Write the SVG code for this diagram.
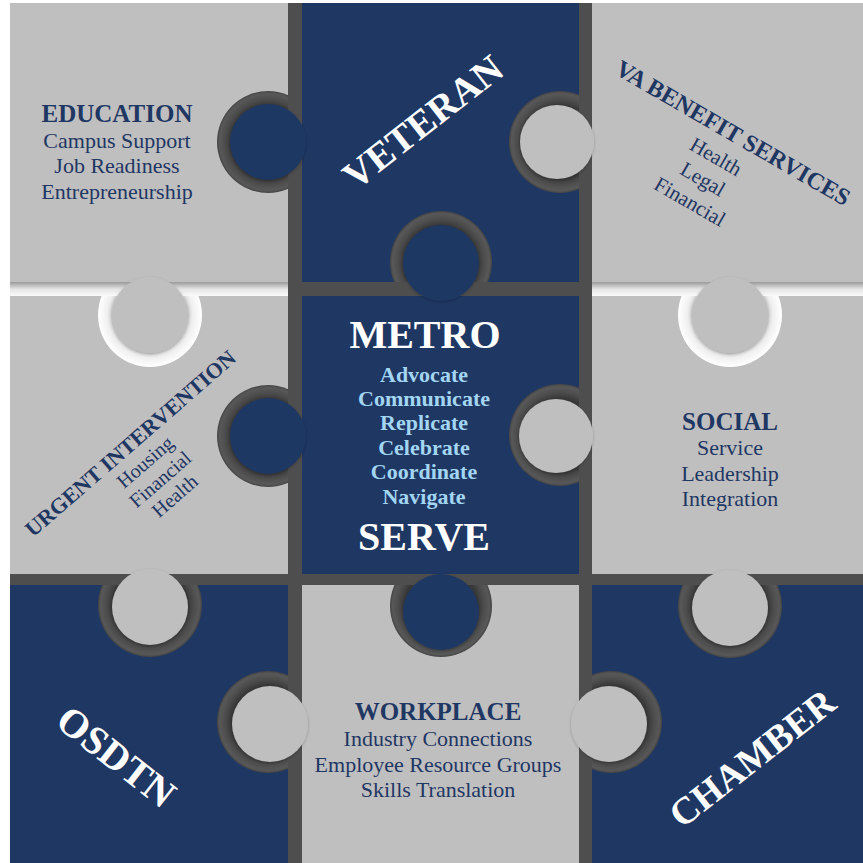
<svg xmlns="http://www.w3.org/2000/svg" width="863" height="863" viewBox="0 0 863 863">
<defs>
<style>
.gray{fill:#c0bfc0}
.blue{fill:#1f3763}
.ring{fill:url(#ringDark)}
.ringL{fill:url(#ringLight)}
text{font-family:"Liberation Serif","DejaVu Serif",serif;text-anchor:middle}
.hd{font-weight:bold;fill:#1f3763;font-size:25px}
.sub{fill:#1f3763;font-size:22px}
.big{font-weight:bold;fill:#ffffff}
.lb{font-weight:bold;fill:#a3d6f2;font-size:22px}
.knob{filter:url(#sh)}
</style>
<radialGradient id="ringDark">
<stop offset="0.72" stop-color="#383838"/>
<stop offset="0.84" stop-color="#4c4c4c"/>
<stop offset="0.95" stop-color="#585858"/>
<stop offset="1" stop-color="#444444"/>
</radialGradient>
<radialGradient id="ringLight">
<stop offset="0.72" stop-color="#cdcdcd"/>
<stop offset="0.82" stop-color="#efefef"/>
<stop offset="1" stop-color="#ffffff"/>
</radialGradient>
<linearGradient id="lightBand" x1="0" y1="0" x2="0" y2="1">
<stop offset="0" stop-color="#9a9a9a"/>
<stop offset="0.5" stop-color="#e4e4e4"/>
<stop offset="1" stop-color="#fafafa"/>
</linearGradient>
<filter id="sh" x="-20%" y="-20%" width="140%" height="140%">
<feDropShadow dx="0" dy="1" stdDeviation="1.5" flood-color="#000" flood-opacity="0.25"/>
</filter>
<clipPath id="c11"><rect x="10" y="3" width="278" height="279"/></clipPath>
<clipPath id="c12"><rect x="302" y="3" width="277" height="279"/></clipPath>
<clipPath id="c21"><rect x="10" y="296" width="278" height="278"/></clipPath>
<clipPath id="c22"><rect x="302" y="296" width="277" height="278"/></clipPath>
<clipPath id="c23"><rect x="592" y="296" width="271" height="278"/></clipPath>
<clipPath id="c31"><rect x="10" y="585" width="278" height="278"/></clipPath>
<clipPath id="c32"><rect x="302" y="585" width="277" height="278"/></clipPath>
<clipPath id="c33"><rect x="592" y="585" width="271" height="278"/></clipPath>
</defs>

<rect x="0" y="0" width="863" height="863" fill="#ffffff"/>
<rect x="10" y="3" width="853" height="860" fill="#4e4e4e"/>
<rect x="10" y="282" width="278" height="14" fill="url(#lightBand)"/>
<rect x="592" y="282" width="271" height="14" fill="url(#lightBand)"/>

<g id="connectors"></g>

<g id="osdtn">
<g clip-path="url(#c31)">
<rect class="blue" x="10" y="585" width="278" height="278"/>
<circle class="ring" cx="150" cy="605" r="52"/>
<circle class="ring" cx="268" cy="722" r="51"/>
</g>
<text class="big" font-size="40" transform="translate(116,757) rotate(38)" x="0" y="13">OSDTN</text>
</g>

<g id="chamber">
<g clip-path="url(#c33)">
<rect class="blue" x="592" y="585" width="271" height="278"/>
<circle class="ring" cx="730" cy="606" r="52"/>
<circle class="ring" cx="611" cy="722" r="51"/>
</g>
<text class="big" font-size="38" transform="translate(752,758) rotate(-38)" x="0" y="13">CHAMBER</text>
</g>

<g id="workplace">
<g clip-path="url(#c32)">
<rect class="gray" x="302" y="585" width="277" height="278"/>
<circle class="ring" cx="441" cy="606" r="51"/>
</g>
<circle class="gray knob" cx="270" cy="724" r="38"/>
<circle class="gray knob" cx="609" cy="724" r="38"/>
<text class="hd" x="438" y="720">WORKPLACE</text>
<text class="sub" x="438" y="746">Industry Connections</text>
<text class="sub" x="438" y="772">Employee Resource Groups</text>
<text class="sub" x="438" y="797">Skills Translation</text>
</g>

<g id="urgent-intervention">
<g clip-path="url(#c21)">
<rect class="gray" x="10" y="296" width="278" height="278"/>
<circle class="ringL" cx="150" cy="315" r="52"/>
<circle class="ring" cx="268" cy="436" r="51"/>
</g>
<circle class="gray knob" cx="150" cy="607" r="38"/>
<g transform="translate(130,443) rotate(-41)">
<text class="hd" style="font-size:22px" x="0" y="8">URGENT INTERVENTION</text>
<text class="sub" style="font-size:20px" x="-1" y="31">Housing</text>
<text class="sub" style="font-size:20px" x="-1" y="54">Financial</text>
<text class="sub" style="font-size:20px" x="-1" y="76">Health</text>
</g>
</g>

<g id="education">
<g clip-path="url(#c11)">
<rect class="gray" x="10" y="3" width="278" height="279"/>
<circle class="ring" cx="268" cy="142" r="51"/>
</g>
<circle class="gray knob" cx="150" cy="315" r="38"/>
<text class="hd" x="117" y="122">EDUCATION</text>
<text class="sub" x="117" y="148">Campus Support</text>
<text class="sub" x="117" y="173">Job Readiness</text>
<text class="sub" x="117" y="199">Entrepreneurship</text>
</g>

<g id="veteran">
<g clip-path="url(#c12)">
<rect class="blue" x="302" y="3" width="277" height="279"/>
<circle class="ring" cx="560" cy="142" r="51"/>
<circle class="ring" cx="441" cy="262" r="51"/>
</g>
<circle class="blue knob" cx="268" cy="142" r="38"/>
<text class="big" font-size="39" transform="translate(423,122) rotate(-38)" x="0" y="13">VETERAN</text>
</g>

<g id="metro-serve">
<g clip-path="url(#c22)">
<rect class="blue" x="302" y="296" width="277" height="278"/>
<circle class="ring" cx="560" cy="435" r="51"/>
</g>
<circle class="blue knob" cx="441" cy="263" r="38"/>
<circle class="blue knob" cx="268" cy="436" r="38"/>
<circle class="blue knob" cx="441" cy="612" r="38"/>
<text class="big" font-size="40" x="425" y="348">METRO</text>
<text class="lb" x="424" y="382">Advocate</text>
<text class="lb" x="424" y="406">Communicate</text>
<text class="lb" x="424" y="430">Replicate</text>
<text class="lb" x="424" y="455">Celebrate</text>
<text class="lb" x="424" y="479">Coordinate</text>
<text class="lb" x="424" y="504">Navigate</text>
<text class="big" font-size="40" x="424" y="550">SERVE</text>
</g>

<g id="social">
<g clip-path="url(#c23)">
<rect class="gray" x="592" y="296" width="271" height="278"/>
<circle class="ringL" cx="730" cy="315" r="52"/>
</g>
<circle class="gray knob" cx="556" cy="436" r="37"/>
<circle class="gray knob" cx="730" cy="608" r="38"/>
<text class="hd" x="730" y="430">SOCIAL</text>
<text class="sub" x="730" y="455">Service</text>
<text class="sub" x="730" y="481">Leadership</text>
<text class="sub" x="730" y="506">Integration</text>
</g>

<g id="va-benefit-services">
<rect class="gray" x="592" y="3" width="271" height="279"/>
<circle class="gray knob" cx="557" cy="142" r="37"/>
<circle class="gray knob" cx="730" cy="315" r="38"/>
<g transform="translate(733,133) rotate(30)">
<text class="hd" style="font-size:24px" x="0" y="8">VA BENEFIT SERVICES</text>
<text class="sub" style="font-size:21px" x="-3" y="36">Health</text>
<text class="sub" style="font-size:21px" x="-3" y="62">Legal</text>
<text class="sub" style="font-size:21px" x="-3" y="88">Financial</text>
</g>
</g>
</svg>
